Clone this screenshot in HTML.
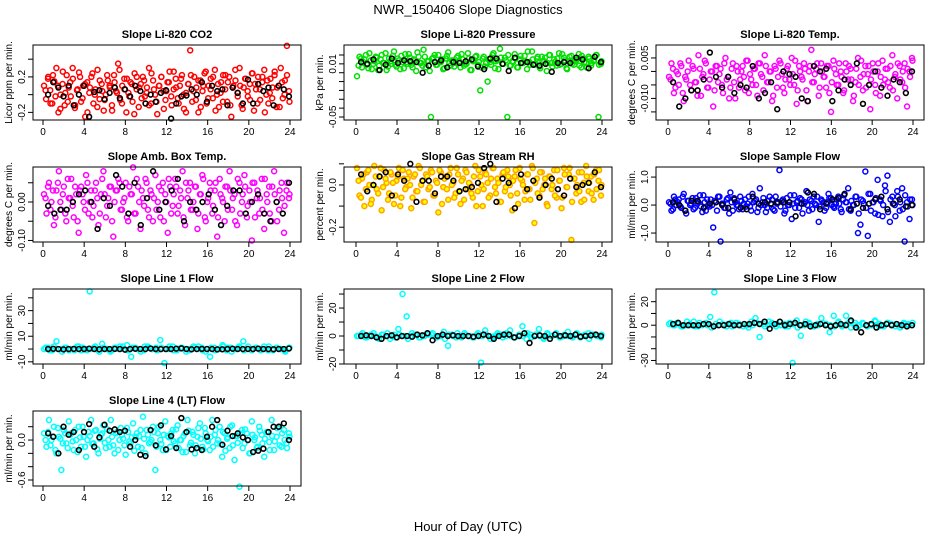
<!DOCTYPE html>
<html><head><meta charset="utf-8"><style>
html,body{margin:0;padding:0;background:#fff;}
svg{display:block;font-family:"Liberation Sans",Arial,sans-serif;}
</style></head><body>
<svg id="chart" width="936" height="540" viewBox="0 0 936 540" xmlns="http://www.w3.org/2000/svg">
<rect width="936" height="540" fill="#fff"/>
<text x="468" y="14" text-anchor="middle" font-size="13">NWR_150406  Slope Diagnostics</text>
<text x="468" y="531" text-anchor="middle" font-size="13">Hour of Day (UTC)</text>
</svg>
<script>
const xTicks=[0,4,8,12,16,20,24];
const co2=[0.1,-0.05,0.2,0.05,-0.1,0.15,0.3,-0.2,0.0,0.12,-0.12,0.22,0.08,-0.02,0.18,-0.15,0.05,0.25,-0.08,0.1,-0.25,0.14,0.02,0.2,-0.1,0.06,0.28,-0.05,0.12,-0.18,0.0,0.16,0.08,-0.12,0.22,0.04,0.35,-0.06,0.1,0.18,-0.2,0.02,0.14,-0.08,0.24,0.06,-0.14,0.12,0.2,-0.02,0.08,0.3,-0.1,0.16,0.0,-0.22,0.1,0.2,0.04,-0.06,0.14,0.26,-0.12,0.06,0.18,-0.04,0.1,0.22,-0.16,0.02,0.12,0.5,-0.08,0.2,0.08,-0.2,0.16,0.04,0.24,-0.1,0.1,0.18,-0.04,0.28,0.0,-0.14,0.14,0.22,0.06,-0.08,0.2,-0.25,0.1,0.16,0.02,0.3,-0.12,0.08,0.18,-0.02,0.12,0.24,-0.18,0.06,0.2,-0.06,0.14,0.28,0.0,-0.1,0.18,0.08,0.22,-0.14,0.1,0.3,-0.04,0.16,0.55,0.04];
const co2b=[0.05,0.18,-0.1,0.22,-0.02,0.1,-0.16,0.26,0.02,-0.08,0.14,0.3,-0.12,0.06,0.2,-0.04,0.12,-0.2,0.08,0.24,0.0,-0.14,0.16,0.04,-0.06,0.22,0.1,-0.18,0.14,0.02,0.28,-0.1,0.06,0.18,-0.02,0.12,-0.22,0.2,0.08,-0.04,0.16,0.02,-0.12,0.24,0.06,-0.08,0.1,0.2,-0.16,0.04,0.14,-0.02,0.26,0.08,-0.1,0.18,0.0,-0.2,0.12,0.22,0.04,-0.06,0.16,-0.14,0.1,0.26,-0.04,0.06,0.2,-0.18,0.12,0.02,-0.08,0.22,0.14,-0.12,0.08,0.28,-0.02,0.1,-0.16,0.18,0.04,-0.06,0.24,0.12,-0.1,0.06,0.2,-0.2,0.16,0.02,-0.04,0.26,0.08,-0.14,0.14,0.0,0.22,-0.08];
const co2K=[0,0.14,0.08,-0.02,0.1,-0.12,0.0,0.1,-0.25,0.03,0.05,-0.05,0.02,0.08,-0.04,0.06,-0.02,0.1,0.04,-0.1,0.0,-0.08,0.02,0.05,-0.27,-0.1,-0.02,-0.01,0.06,0.0,0.14,-0.08,0.1,0.04,0.06,-0.12,0.08,0.02,-0.1,0.17,-0.1,0.12,0.04,0.08,-0.12,0.1,0.06,-0.02];
const pres=[-0.004,0.018,0.006,0.015,0.009,0.022,0.004,0.013,0.017,0.008,0.02,0.011,0.003,0.016,0.01,0.024,0.007,0.014,0.019,0.005,0.012,0.021,0.009,0.015,0.002,0.018,0.011,0.026,0.006,0.013,-0.05,0.017,0.009,0.02,0.012,0.004,0.016,0.023,0.008,0.014,0.011,0.019,0.006,0.015,0.01,0.022,0.003,0.013,0.018,0.009,-0.02,0.016,0.007,-0.01,0.012,0.02,0.005,0.014,0.027,0.01,0.017,-0.05,0.008,0.013,0.021,0.006,0.015,0.011,0.019,0.004,0.012,0.024,0.009,0.016,0.007,0.018,0.013,0.002,0.02,0.011,0.015,0.008,0.022,0.01,0.017,0.005,0.013,0.019,0.009,0.014,0.021,0.006,0.016,0.011,0.018,0.008,0.013,0.02,-0.05,0.01];
const presb=[0.008,0.016,0.012,0.02,0.005,0.014,0.01,0.018,0.003,0.015,0.011,0.022,0.007,0.013,0.019,0.009,0.016,0.004,0.012,0.021,0.01,0.017,0.006,0.014,0.023,0.011,0.008,0.018,0.013,0.002,0.016,0.02,0.009,0.012,0.015,0.005,0.019,0.011,0.014,0.007,0.017,0.013,0.021,0.008,0.01,0.016,0.003,0.014,0.019,0.012,0.006,0.018,0.011,0.015,0.009,0.022,0.013,0.004,0.017,0.01,0.014,0.02,0.008,0.012,0.016,0.006,0.019,0.011,0.013,0.024,0.009,0.015,0.01,0.018,0.005,0.013,0.017,0.011,0.02,0.007,0.012,0.016,0.009,0.021,0.014,0.004,0.018,0.01,0.013,0.015,0.008,0.019,0.012,0.006,0.016,0.011,0.014,0.02,0.009,0.013];
const presK=[0.012,0.01,0.015,0.003,0.009,0.016,0.011,0.014,0.013,0.012,0.0,0.008,0.012,0.014,0.006,0.012,0.011,0.013,0.015,0.007,0.004,0.016,0.016,0.01,0.002,0.017,0.011,0.012,0.009,0.008,0.01,0.001,0.011,0.012,0.011,0.017,0.015,0.005,0.018,0.012];
const temp=[-0.002,0.003,-0.008,0.0,-0.005,0.002,-0.011,-0.003,0.004,-0.007,0.001,-0.004,0.006,-0.009,-0.001,0.003,-0.006,0.0,-0.013,0.002,-0.004,0.001,-0.008,0.005,-0.002,-0.006,0.003,-0.01,0.0,-0.003,0.002,-0.007,0.004,-0.001,-0.005,0.001,-0.009,0.003,-0.002,0.006,-0.004,0.0,-0.011,0.002,-0.006,0.004,-0.001,-0.008,0.001,-0.003,0.005,-0.005,-0.012,0.002,-0.002,0.003,-0.007,0.0,0.008,-0.004,0.001,-0.009,0.003,-0.002,-0.006,0.002,-0.015,0.004,-0.001,-0.005,0.0,-0.008,0.003,-0.003,0.001,-0.011,-0.004,0.005,-0.002,-0.007,0.002,-0.001,-0.014,0.003,-0.005,0.0,-0.009,0.004,-0.003,0.001,-0.006,0.006,-0.002,-0.01,0.002,-0.004,0.003,-0.013,0.0,0.005];
const tempb=[-0.003,0.001,-0.006,-0.001,0.003,-0.008,-0.002,0.0,-0.005,0.002,-0.004,-0.009,0.001,-0.002,0.004,-0.006,-0.003,0.0,-0.007,0.002,-0.001,-0.005,0.003,-0.003,-0.01,0.001,-0.004,0.002,-0.006,0.0,-0.002,0.004,-0.008,-0.003,0.001,-0.005,0.003,-0.001,-0.007,0.002,-0.004,0.0,-0.009,0.001,-0.002,0.003,-0.006,-0.003,0.002,-0.005,-0.001,0.004,-0.007,0.0,-0.003,0.001,-0.011,0.002,-0.004,-0.001,0.003,-0.006,0.0,-0.002,0.002,-0.008,-0.004,0.001,-0.005,0.003,-0.002,-0.007,0.0,0.002,-0.003,-0.009,0.001,-0.005,0.004,-0.001,-0.006,0.002,-0.003,0.0,-0.008,0.003,-0.002,-0.005,0.001,-0.004,0.002,-0.007,-0.001,0.003,-0.003,0.0,-0.006,0.001,-0.002,0.004];
const tempK=[-0.004,-0.013,-0.01,-0.007,-0.007,-0.003,0.007,-0.002,-0.006,-0.002,-0.008,-0.005,-0.006,0.002,-0.01,-0.008,-0.004,-0.014,0.0,-0.001,-0.002,-0.01,-0.011,0.002,0.0,0.001,-0.011,-0.007,-0.003,-0.005,0.003,-0.012,-0.005,0.0,-0.006,-0.009,-0.003,-0.004,-0.008,0.0];
const amb=[0.02,-0.03,0.05,0.0,-0.06,0.03,0.08,-0.02,0.04,-0.05,0.01,0.06,-0.04,0.02,-0.08,0.04,0.0,0.07,-0.03,0.03,-0.01,0.05,-0.06,0.02,0.08,-0.04,0.01,0.04,-0.09,0.03,0.06,-0.02,0.0,0.05,-0.05,0.02,0.09,-0.03,0.04,-0.07,0.01,0.06,-0.02,0.03,-0.05,0.07,0.0,-0.04,0.05,0.02,-0.08,0.04,-0.01,0.06,-0.03,0.03,0.08,-0.06,0.01,0.05,-0.02,0.04,-0.07,0.02,0.07,-0.04,0.0,0.05,-0.03,0.03,-0.09,0.06,0.01,-0.05,0.04,0.08,-0.02,0.02,-0.06,0.05,0.0,0.07,-0.04,0.03,-0.1,0.05,0.01,-0.03,0.06,-0.07,0.02,0.04,-0.05,0.08,0.0,-0.02,0.05,-0.08,0.03,0.01];
const ambb=[0.01,0.04,-0.02,0.03,-0.04,0.05,0.0,0.02,-0.03,0.06,0.01,-0.01,0.04,-0.05,0.03,0.02,-0.02,0.05,0.0,-0.04,0.03,0.01,-0.03,0.06,0.02,-0.01,0.04,-0.05,0.0,0.03,0.05,-0.02,0.01,-0.04,0.04,0.02,-0.03,0.06,0.0,0.03,-0.01,0.05,-0.04,0.02,0.01,-0.02,0.04,0.03,-0.05,0.0,0.06,-0.03,0.02,0.04,-0.01,0.01,-0.04,0.05,0.03,-0.02,0.0,0.04,-0.03,0.02,0.06,-0.05,0.01,0.03,-0.01,0.05,-0.04,0.02,0.0,0.04,-0.02,0.03,0.01,-0.05,0.06,-0.03,0.02,0.04,-0.01,0.0,0.05,-0.04,0.03,0.01,-0.02,0.06,0.0,-0.03,0.04,0.02,-0.05,0.03,0.01,-0.01,0.05,0.02];
const ambK=[-0.01,-0.03,-0.02,-0.02,0.0,0.02,0.03,0.0,-0.07,0.01,-0.01,0.07,0.04,-0.03,0.05,-0.06,0.01,0.08,-0.02,0.0,0.03,0.06,-0.05,0.0,-0.02,0.0,0.02,-0.02,-0.06,-0.01,0.03,0.03,-0.03,0.0,0.02,-0.03,-0.05,0.0,-0.03,0.05];
const rh=[0.08,-0.05,0.03,-0.1,0.06,0.0,-0.07,0.09,-0.02,0.04,-0.12,0.07,0.01,-0.04,0.05,-0.09,0.02,0.08,-0.06,0.03,-0.01,0.06,-0.11,0.04,-0.03,0.09,0.0,-0.08,0.05,-0.02,0.07,-0.05,0.02,-0.13,0.06,-0.01,0.04,-0.07,0.08,0.01,-0.04,0.05,-0.09,0.03,0.07,-0.02,0.0,-0.06,0.09,-0.03,0.04,-0.1,0.06,0.01,-0.05,0.08,-0.01,0.03,-0.08,0.05,-0.03,0.07,0.0,-0.12,0.04,-0.04,0.08,0.02,-0.07,0.05,-0.02,0.09,-0.18,0.03,-0.05,0.06,0.0,-0.09,0.04,-0.02,0.07,-0.06,0.02,-0.11,0.08,-0.01,0.05,-0.26,0.03,-0.04,0.06,-0.08,0.01,0.09,-0.03,0.04,-0.07,0.07,0.02,-0.05];
const rhb=[0.02,-0.06,0.05,-0.02,0.07,-0.09,0.0,0.04,-0.04,0.08,-0.01,0.03,-0.07,0.06,0.01,-0.05,0.04,-0.1,0.07,-0.02,0.03,0.0,-0.06,0.05,-0.03,0.08,0.02,-0.08,0.04,-0.01,0.06,-0.05,0.01,0.07,-0.09,0.03,-0.02,0.05,0.0,-0.06,0.08,-0.03,0.02,-0.07,0.06,0.01,-0.04,0.04,-0.1,0.07,0.0,-0.02,0.05,-0.06,0.03,0.08,-0.04,0.01,-0.08,0.06,-0.01,0.04,-0.05,0.02,0.07,-0.09,0.03,0.0,-0.03,0.05,-0.07,0.08,0.01,-0.04,0.06,-0.02,0.03,-0.1,0.04,0.0,-0.05,0.07,0.02,-0.06,0.05,-0.01,0.08,-0.08,0.03,0.0,-0.03,0.06,-0.07,0.04,0.01,-0.04,0.05,-0.02,0.07,0.0];
const rhK=[0.05,-0.03,0.0,0.04,0.06,-0.05,0.05,0.02,0.1,-0.08,0.02,0.02,-0.04,0.04,0.04,0.02,-0.03,-0.02,-0.01,0.01,0.08,0.1,-0.08,0.03,0.01,-0.11,0.05,-0.02,0.02,-0.06,0.0,0.03,-0.02,-0.05,0.03,-0.01,0.0,0.01,0.06,-0.01];
const samp=[0.1,-0.2,0.3,0.0,0.2,-0.1,0.4,-0.3,0.15,0.05,-0.15,0.25,0.1,-0.05,0.35,-0.2,0.0,0.2,-0.8,0.1,0.3,-1.3,0.05,-0.1,0.25,0.45,-0.2,0.1,0.0,0.3,-0.15,0.2,0.05,-0.05,0.4,0.15,-0.25,0.6,0.1,0.0,-0.1,0.3,0.2,-0.2,0.05,1.25,0.15,-0.3,0.25,0.0,-0.5,0.35,0.1,-0.1,0.2,0.05,0.5,-0.2,0.15,0.3,0.0,-0.6,0.2,0.1,-0.1,0.4,0.25,-0.05,0.05,0.3,-0.15,0.2,0.1,0.6,-0.2,0.0,0.3,-1.0,-0.7,0.15,1.2,-1.1,0.4,0.1,-0.3,0.9,0.2,-0.4,0.7,1.05,-0.6,0.3,0.0,0.5,-0.2,0.6,-1.3,0.1,-0.5,0.2];
const sampb=[0.05,-0.15,0.2,0.1,-0.05,0.3,-0.2,0.15,0.0,0.25,-0.1,0.05,0.35,-0.25,0.1,0.2,-0.05,0.0,0.15,-0.2,0.3,0.05,-0.1,0.2,-0.3,0.1,0.25,0.0,-0.15,0.15,0.05,-0.05,0.3,-0.2,0.1,0.2,-0.1,0.0,0.25,-0.25,0.15,0.05,-0.15,0.3,0.1,-0.05,0.2,-0.2,0.0,0.35,0.05,-0.1,0.15,0.25,-0.3,0.1,0.0,0.2,-0.15,0.05,0.3,-0.05,0.15,-0.2,0.1,0.25,0.0,-0.1,0.2,0.05,-0.25,0.35,0.1,-0.15,0.15,0.0,0.3,-0.3,0.2,0.05,-0.1,0.4,-0.2,0.1,0.25,-0.35,0.15,0.0,0.5,-0.25,0.2,0.05,-0.4,0.3,0.1,-0.15,0.35,-0.05,0.2,0.0];
const sampK=[0.1,0.0,-0.2,0.15,0.15,-0.1,0.05,0.1,0.0,-0.1,0.2,-0.1,-0.15,0.3,0.05,0.1,0.05,0.1,0.1,0.1,-0.4,0.05,0.45,0.4,-0.15,0.05,0.2,0.25,0.4,-0.15,0.05,-0.1,0.05,0.2,0.3,-0.15,0.05,0.2,-0.05,0.0];
const line1=[0,1,-1,6,0,1,-1,0,2,-1,0,45,1,-1,4,0,-2,1,0,2,3,-6,1,0,-1,2,0,1,7,-11,0,2,-1,1,0,-1,2,0,1,-2,-6,1,0,3,-1,1,0,2,6,0,-1,1,0,2,-1,0,1,0,-1,1];
const line1b=[1,-1,2,0,-2,1,0,-1,2,1,-1,0,2,-2,1,0,-1,1,2,0,-1,1,0,-2,2,1,0,-1,1,0,2,-1,0,1,-2,0,1,2,-1,0,1,-1,0,2,1,-2,0,1,-1,2,0,1,-1,0,2,-1,1,0,-2,1];
const line1K=[0,0.2,0,-0.3,0,0.1,0,0,0.3,0,-0.2,0,0,0.1,0,-0.5,0,0.2,0,0,0.4,0,-0.1,0,0,0.3,0.5,0,-0.2,0,0.1,0,0,-0.3,-0.2,0,0.2,0,0,0.1,0,0.3,0,0,-0.2,0,0,0.4];
const line2=[0,1,-1,0,2,-1,1,0,-2,1,5,30,14,0,1,-1,0,2,1,-1,0,3,-7,1,-1,0,2,0,-1,1,-19,4,0,-1,2,1,0,4,-1,0,7,-2,1,0,5,-1,2,0,1,-1,0,3,0,1,-1,0,2,1,0,-1];
const line2b=[0,2,-1,1,0,-2,1,2,0,-1,1,0,-2,2,1,-1,0,1,2,-1,0,-2,1,0,2,-1,1,0,-1,2,0,1,-2,0,1,-1,2,0,-1,1,0,2,-1,1,0,-2,1,0,2,-1,1,0,-1,2,0,1,-2,1,0,1];
const line2K=[0,0.5,0,-1,-2,0,0.5,-1,0,0,-0.5,1,0.5,2,-3,0,1,0,0.5,0,0,0,-0.5,0,1,0,-2,0,1,1,-1,0,2,-5,0,0.5,0,-2,1,0,0.5,0,1,-0.5,0,0.5,1,0];
const line3=[1,0,2,-1,0,1,3,-1,0,2,7,28,0,1,-1,2,0,1,-1,0,3,6,-10,1,0,2,-1,0,1,-1,-32,4,-9,0,2,-1,1,6,0,-6,8,2,-1,8,3,0,-1,2,0,1,4,-1,0,2,1,-1,0,2,1,0];
const line3b=[2,0,1,-1,3,0,-1,2,1,0,-2,1,3,0,1,-1,2,0,1,-2,0,2,1,-1,3,0,1,0,-1,2,1,-2,0,3,1,-1,0,2,1,0,-1,3,0,1,-2,2,0,1,-1,0,3,1,-1,2,0,1,-2,1,0,2];
const line3K=[1,2,0,0,0,0,1,1,-1,0,0,1,0,0,1,1,2,1,3,-3,1,3,0,1,2,0,1,-1,0,1,0,-1,0,1,0,4,-2,-6,0,1,-2,0,1,0,1,0,-1,0];
const line4=[0.1,-0.1,0.3,0.0,0.2,-0.2,0.05,-0.45,0.15,-0.05,0.28,0.1,-0.15,0.0,0.2,-0.1,0.05,-0.25,0.12,0.3,-0.05,0.15,-0.2,0.08,0.22,-0.12,0.0,0.3,-0.08,0.1,-0.15,0.18,0.02,-0.22,0.12,-0.05,0.25,0.05,-0.1,0.15,0.35,-0.2,0.08,-0.03,0.2,-0.45,0.1,0.0,-0.15,0.28,0.06,-0.1,0.15,-0.05,0.22,0.0,-0.18,0.1,0.3,-0.08,0.12,-0.2,0.05,0.25,-0.1,0.18,0.0,-0.15,0.3,0.08,-0.05,0.2,-0.25,0.1,0.02,-0.12,0.22,-0.3,0.06,-0.7,0.15,-0.05,0.1,-0.2,0.28,0.0,-0.12,0.2,0.08,-0.25,0.12,-0.03,0.3,-0.15,0.05,0.2,-0.1,0.15,-0.05,0.1];
const line4b=[0.0,0.12,-0.08,0.05,-0.15,0.18,0.02,-0.05,0.1,-0.12,0.08,-0.02,0.15,-0.18,0.04,0.2,-0.1,0.0,0.06,-0.06,0.14,-0.14,0.02,0.1,-0.04,0.16,-0.1,0.05,-0.2,0.12,0.0,0.08,-0.08,0.18,-0.02,0.04,-0.16,0.1,0.06,-0.12,0.02,0.15,-0.05,0.0,0.12,-0.1,0.2,-0.06,0.08,-0.15,0.04,0.1,-0.02,0.16,-0.12,0.0,0.06,-0.18,0.14,-0.04,0.08,-0.08,0.18,0.02,-0.14,0.1,-0.02,0.05,-0.1,0.15,0.0,-0.06,0.12,-0.16,0.04,0.2,-0.08,0.06,-0.04,0.1,-0.12,0.16,0.0,-0.2,0.08,0.04,-0.1,0.14,-0.05,0.02,0.12,-0.15,0.06,-0.02,0.18,-0.08,0.1,0.0,-0.12,0.05];
const line4K=[0.1,0.05,-0.2,0.2,0.08,0.12,-0.15,0.12,0.24,-0.1,0.04,0.23,0.14,0.16,0.12,0.14,-0.1,0.0,-0.22,-0.24,0.15,-0.08,0.22,-0.14,0.06,-0.12,0.33,0.12,-0.14,-0.12,-0.15,0.05,0.2,0.3,-0.07,0.14,0.06,0.1,0.04,0.0,-0.18,-0.16,-0.13,0.12,0.2,0.2,0.25,0.0];

const co2Ticks=[0.4,0.2,0,-0.2], co2Labels=["","0.2","","-0.2"];
const presTicks=[0.02,0.01,0,-0.01,-0.02,-0.03,-0.04,-0.05], presLabels=["","0.01","","","","","","-0.05"];
const tempTicks=[0.005,0,-0.005,-0.01,-0.015], tempLabels=["0.005","","","-0.010",""];
const ambTicks=[0.05,0,-0.05,-0.1], ambLabels=["","0.00","","-0.10"];
const rhTicks=[0.1,0,-0.1,-0.2], rhLabels=["","0.0","","-0.2"];
const sampTicks=[1,0,-1], sampLabels=["1.0","0.0","-1.0"];
const l1Ticks=[40,30,20,10,0,-10], l1Labels=["","30","","10","","-10"];
const l2Ticks=[30,20,10,0,-10,-20], l2Labels=["","20","","0","","-20"];
const l3Ticks=[20,10,0,-10,-20,-30], l3Labels=["20","","0","","","-30"];
const l4Ticks=[0.2,0,-0.2,-0.4,-0.6], l4Labels=["","0.0","","","-0.6"];

const colX=[[33,301,43,290],[344,612,356,602],[656,924,668,913]];
const rowY=[[45,120,34],[167,242,156],[289,364,278],[411,486,400]];
const panels=[
 {t:"Slope Li-820 CO2",yl:"Licor ppm per min.",c:0,r:0,dom:[0.56,-0.286],d:co2,d2:co2b,k:co2K,tk:co2Ticks,tl:co2Labels,col:"#ff0000",fill:"none",n:"co2"},
 {t:"Slope Li-820 Pressure",yl:"kPa per min.",c:1,r:0,dom:[0.0313,-0.0534],d:pres,d2:presb,k:presK,tk:presTicks,tl:presLabels,col:"#00e000",fill:"none",n:"pressure"},
 {t:"Slope Li-820 Temp.",yl:"degrees C per min.",c:2,r:0,dom:[0.0098,-0.018],d:temp,d2:tempb,k:tempK,tk:tempTicks,tl:tempLabels,col:"#ff00ff",fill:"none",n:"li820-temp"},
 {t:"Slope Amb. Box Temp.",yl:"degrees C per min.",c:0,r:1,dom:[0.091,-0.104],d:amb,d2:ambb,k:ambK,tk:ambTicks,tl:ambLabels,col:"#ff00ff",fill:"none",n:"amb-box-temp"},
 {t:"Slope Gas Stream RH",yl:"percent per min.",c:1,r:1,dom:[0.085,-0.27],d:rh,d2:rhb,k:rhK,tk:rhTicks,tl:rhLabels,col:"#ffa500",fill:"#ffff00",n:"gas-stream-rh"},
 {t:"Slope Sample Flow",yl:"ml/min per min.",c:2,r:1,dom:[1.36,-1.32],d:samp,d2:sampb,k:sampK,tk:sampTicks,tl:sampLabels,col:"#0000ff",fill:"none",n:"sample-flow"},
 {t:"Slope Line 1 Flow",yl:"ml/min per min.",c:0,r:2,dom:[46.9,-11.7],d:line1,d2:line1b,k:line1K,tk:l1Ticks,tl:l1Labels,col:"#00ffff",fill:"none",n:"line1-flow"},
 {t:"Slope Line 2 Flow",yl:"ml/min per min.",c:1,r:2,dom:[33.6,-20],d:line2,d2:line2b,k:line2K,tk:l2Ticks,tl:l2Labels,col:"#00ffff",fill:"none",n:"line2-flow"},
 {t:"Slope Line 3 Flow",yl:"ml/min per min.",c:2,r:2,dom:[30.8,-33],d:line3,d2:line3b,k:line3K,tk:l3Ticks,tl:l3Labels,col:"#00ffff",fill:"none",n:"line3-flow"},
 {t:"Slope Line 4 (LT) Flow",yl:"ml/min per min.",c:0,r:3,dom:[0.436,-0.69],d:line4,d2:line4b,k:line4K,tk:l4Ticks,tl:l4Labels,col:"#00ffff",fill:"none",n:"line4-flow"}
];
const NS="http://www.w3.org/2000/svg";
const svg=document.getElementById("chart");
function mk(tag,attrs,parent,text){const e=document.createElementNS(NS,tag);for(const a in attrs)e.setAttribute(a,attrs[a]);if(text!==undefined)e.textContent=text;parent.appendChild(e);return e;}
panels.forEach(p=>{
 const [bl,br,x0,x24]=colX[p.c]; const [bt,bb,ty]=rowY[p.r];
 const g=mk("g",{},svg);
 
 
 const xs=h=>x0+(x24-x0)*h/24;
 const ys=v=>bt+(bb-bt)*(p.dom[0]-v)/(p.dom[0]-p.dom[1]);
 const ti=mk("text",{x:(bl+br)/2,y:ty+4,"text-anchor":"middle","font-size":"11","font-weight":"bold"},g,p.t);
 
 
 const pts=mk("g",{},g);
 
 
 [[p.d,0.1,23.8],[p.d2,0.25,23.7]].forEach(([arr,st,span])=>{
  const n=arr.length;
  arr.forEach((v,i)=>{
   const h=st+span*i/(n-1);
   const c=mk("circle",{cx:xs(h),cy:ys(v),r:2.5,fill:p.fill,stroke:p.col,"stroke-width":1.5},pts);
   
   
  });
 });
 const m=p.k.length;
 p.k.forEach((v,i)=>{
  const h=0.5+23.4*i/(m-1);
  const c=mk("circle",{cx:xs(h),cy:ys(v),r:2.4,fill:"none",stroke:"#000","stroke-width":1.6},pts);
  
  
 });
 const box=mk("rect",{x:bl,y:bt,width:br-bl,height:bb-bt,fill:"none",stroke:"#000","stroke-width":1},g);
 
 
 const xa=mk("g",{},g);
 
 
 xTicks.forEach(t=>{
  mk("line",{x1:xs(t),x2:xs(t),y1:bb,y2:bb+5,stroke:"#000"},xa);
  const l=mk("text",{x:xs(t),y:bb+15,"text-anchor":"middle","font-size":"10"},xa,String(t));
  
  
 });
 const ya=mk("g",{},g);
 
 
 p.tk.forEach((t,i)=>{
  const y=ys(t);
  mk("line",{x1:bl-5,x2:bl,y1:y,y2:y,stroke:"#000"},ya);
  if(p.tl[i]){
   const l=mk("text",{x:bl-8,y:y,"text-anchor":"middle","font-size":"10",transform:`rotate(-90 ${bl-8} ${y})`},ya,p.tl[i]);
   
   
  }
 });
 const ym=(bt+bb)/2, yx=bl-21;
 const yt=mk("text",{x:yx,y:ym,"text-anchor":"middle","font-size":"10",transform:`rotate(-90 ${yx} ${ym})`},g,p.yl);
 
 
});
</script>
</body></html>
